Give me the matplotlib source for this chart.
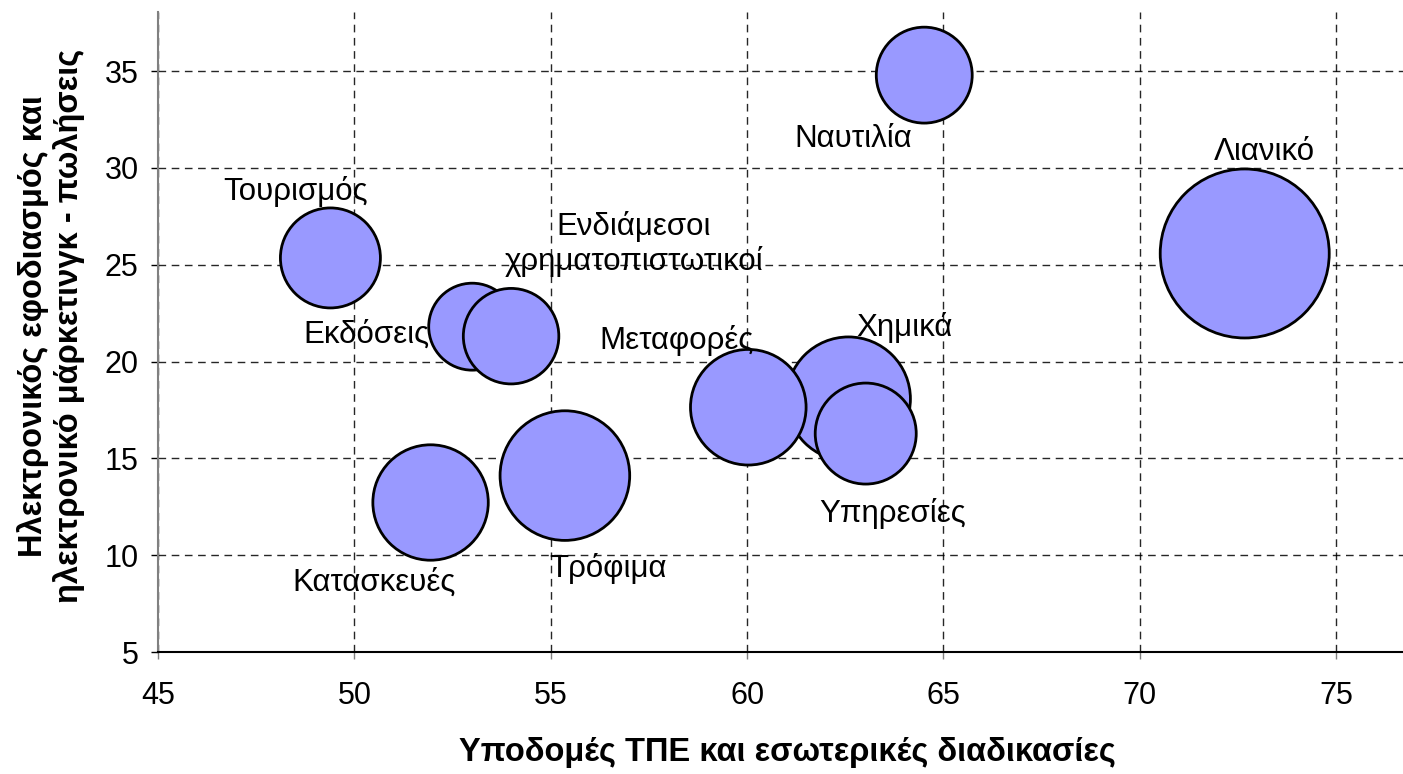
import matplotlib
matplotlib.use("Agg")
import matplotlib.pyplot as plt

# sectors, x = ICT infrastructure, y = e-procurement / e-marketing, bubble = relative size
sectors = ["Τουρισμός", "Εκδόσεις", "Ενδιάμεσοι\nχρηματοπιστωτικοί", "Κατασκευές",
           "Τρόφιμα", "Χημικά", "Μεταφορές", "Υπηρεσίες", "Ναυτιλία", "Λιανικό"]
x_vals = [49.39, 53.00, 53.99, 51.94, 55.36, 62.58, 60.03, 63.02, 64.51, 72.67]
y_vals = [25.35, 21.80, 21.31, 12.72, 14.11, 18.07, 17.64, 16.28, 34.79, 25.58]
bubble = [25.0, 18.9, 22.8, 33.3, 42.0, 38.4, 33.4, 25.5, 23.0, 71.4]

# label offsets in pixels from bubble centre
label_dx = [-35, -106, 123, -57, 43, 56, -72, 27, -71, 20]
label_dy = [66, -8, 92, -80, -93, 71, 67, -80, -64, 101]

plt.rcParams["font.family"] = ["Liberation Sans", "DejaVu Sans"]

fig = plt.figure(figsize=(14.03, 7.74), dpi=100)
ax = fig.add_axes([158 / 1403, 1 - 652 / 774, 1 - 158 / 1403, (652 - 12) / 774])

ax.scatter(x_vals, y_vals, s=[b * 207.4 for b in bubble], color="#9999FF",
           edgecolor="black", linewidth=2.0, zorder=3)

for name, x, y, dx, dy in zip(sectors, x_vals, y_vals, label_dx, label_dy):
    ax.annotate(name, (x, y), xytext=(dx, dy), textcoords="offset pixels",
                ha="center", va="center", fontsize=22.5, zorder=4,
                linespacing=1.15)

ax.set_xlim(45, 76.7)
ax.set_ylim(5, 38.05)
ax.set_xticks(range(45, 80, 5))
ax.set_yticks(range(5, 40, 5))

ax.grid(True, color="black", linestyle=(0, (5.5, 4)), linewidth=1.0, alpha=0.85)
ax.set_axisbelow(True)

ax.spines["top"].set_visible(False)
ax.spines["right"].set_visible(False)
ax.spines["left"].set_color("#808080")
ax.spines["left"].set_linewidth(1.5)
ax.spines["bottom"].set_color("black")
ax.spines["bottom"].set_linewidth(1.5)
ax.tick_params(axis="x", length=5, width=1, pad=16, labelsize=22, color="#808080")
ax.tick_params(axis="y", length=5, width=1, pad=9, labelsize=22, color="black")

fig.text(787 / 1403, 1 - 752 / 774, "Υποδομές ΤΠΕ και εσωτερικές διαδικασίες",
         ha="center", va="center", fontsize=23.5, fontweight="bold")
fig.text(51 / 1403, 1 - 326 / 774,
         "Ηλεκτρονικός εφοδιασμός και\nηλεκτρονικό μάρκετινγκ - πωλήσεις",
         ha="center", va="center", rotation=90, fontsize=23.5, fontweight="bold",
         linespacing=1.15)

fig.savefig("out.png", dpi=100)
